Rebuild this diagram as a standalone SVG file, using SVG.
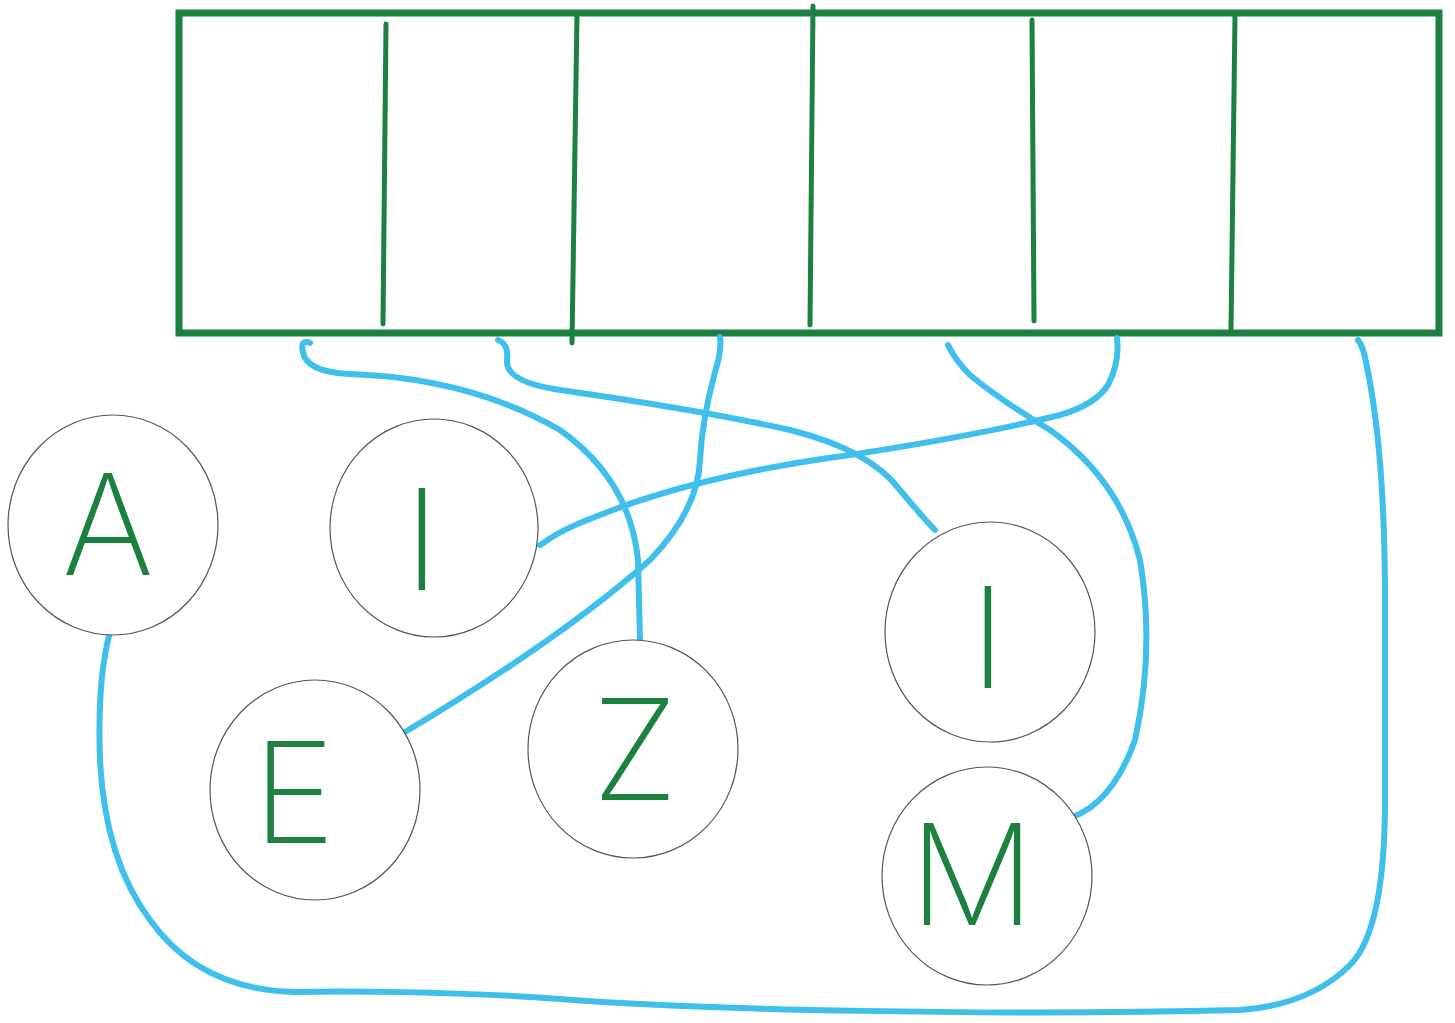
<svg xmlns="http://www.w3.org/2000/svg" width="1455" height="1023" viewBox="0 0 1455 1023">
<style>
.frame{fill:none;stroke:#1b8040;stroke-width:7}
.div{fill:none;stroke:#1b8040;stroke-width:5;stroke-linecap:round}
.node{fill:#fff;stroke:#555;stroke-width:1.2}
.lbl{font-family:Inter,"Liberation Sans",sans-serif;font-weight:200;font-size:140px;fill:#1b8040;text-anchor:middle}
.wire{fill:none;stroke:#3fbfeb;stroke-width:6;stroke-linecap:round;stroke-linejoin:round}
</style>
<rect width="1455" height="1023" fill="#fff"/>
<g id="array">
<rect class="frame" x="179" y="13" width="1260" height="320"/>
<path class="div" d="M386,24 L383,324"/>
<path class="div" d="M577,14 L572,343"/>
<path class="div" d="M813,6 L810,325"/>
<path class="div" d="M1032,20 L1034,321"/>
<path class="div" d="M1235,15 L1231,330"/>
</g>
<g id="connectors">
<path class="wire" d="M310,343 Q300,339 303,352 Q306,372 350,374 Q470,378 560,430 Q630,480 638,560 L640,640"/>
<path class="wire" d="M498,340 Q509,344 507,360 Q505,382 560,390 Q700,410 790,430 Q870,450 900,490 Q925,520 935,530"/>
<path class="wire" d="M720,337 Q722,350 715,372 Q702,420 700,460 Q698,510 650,560 Q560,640 400,735"/>
<path class="wire" d="M948,345 Q955,360 970,375 Q1000,400 1050,430 Q1120,480 1140,560 Q1155,650 1135,740 Q1110,810 1062,820"/>
<path class="wire" d="M1117,338 Q1120,362 1108,385 Q1095,405 1060,415 Q980,435 850,455 Q700,475 600,515 Q560,530 545,542 L540,545"/>
<path class="wire" d="M1358,340 Q1363,346 1366,362 Q1385,450 1385,600 L1385,800 Q1385,930 1350,965 Q1310,1005 1240,1010 C1000,1016 700,1010 560,999 C450,991 340,991 295,992 Q200,990 150,920 Q105,860 100,760 Q97,680 110,632"/>
</g>
<g id="node-A"><ellipse class="node" cx="113" cy="525" rx="105" ry="110"/><text class="lbl" x="108" y="575">A</text></g>
<g id="node-I1"><ellipse class="node" cx="434" cy="528" rx="104" ry="109"/><text class="lbl" x="422" y="590">I</text></g>
<g id="node-E"><ellipse class="node" cx="315" cy="790" rx="105" ry="110"/><text class="lbl" x="294" y="843">E</text></g>
<g id="node-Z"><ellipse class="node" cx="633" cy="749" rx="105" ry="109"/><text class="lbl" x="635" y="800">Z</text></g>
<g id="node-I2"><ellipse class="node" cx="990" cy="632" rx="105" ry="110"/><text class="lbl" x="988" y="688">I</text></g>
<g id="node-M"><ellipse class="node" cx="987" cy="876" rx="105" ry="109"/><text class="lbl" x="972" y="925">M</text></g>
</svg>
